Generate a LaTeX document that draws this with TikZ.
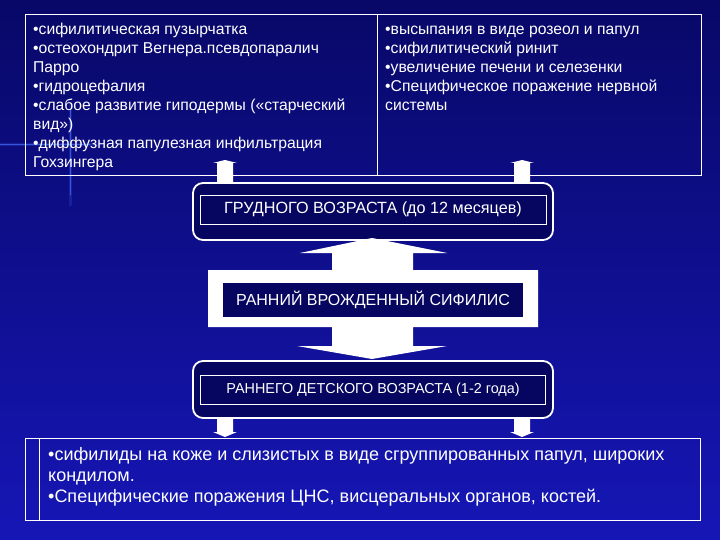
\documentclass[tikz,border=0pt]{standalone}
\usepackage{fontspec}
\setmainfont{Liberation Sans}
\usetikzlibrary{positioning}
\definecolor{slidetop}{RGB}{8,8,104}
\definecolor{slidemid}{RGB}{18,18,168}
\definecolor{slidebot}{RGB}{22,22,182}
\definecolor{boxnavy}{RGB}{6,6,96}
\definecolor{flareblue}{RGB}{70,110,255}
\newcommand{\signlist}[4]{%
    \parbox[t]{#1}{\raggedright\fontsize{#2}{#3}\selectfont #4}%
}
\def\InfantSigns{\signlist{345pt}{15.7}{19}{%
•сифилитическая пузырчатка\\
•остеохондрит Вегнера.псевдопаралич\\
Парро\\
•гидроцефалия\\
•слабое развитие гиподермы («старческий\\
вид»)\\
•диффузная папулезная инфильтрация\\
Гохзингера}}
\def\InfantMore{\signlist{315pt}{15.7}{19}{%
•высыпания в виде розеол и папул\\
•сифилитический ринит\\
•увеличение печени и селезенки\\
•Специфическое поражение нервной\\
системы}}
\def\ChildSigns{\signlist{650pt}{18}{21}{%
•сифилиды на коже и слизистых в виде сгруппированных папул, широких\\
кондилом.\\
•Специфические поражения ЦНС, висцеральных органов, костей.}}
\newcommand{\smallarrow}[3]{%
    \fill[blockarrow] #1 ++(-8,0) -- ++(0,#2) -- ++(-4,0) -- ++(12,#3)
        -- ++(12,{-(#3)}) -- ++(-4,0) -- ++(0,{-(#2)}) -- cycle;%
}

\begin{document}
\begin{tikzpicture}[x=1pt, y=-1pt,
                    every node/.style={inner sep=0pt, text=white},
                    frame/.style={draw=white, line width=0.9pt, anchor=north west},
                    agebox/.style={draw=white, line width=1.8pt, fill=boxnavy,
                                   rounded corners=10pt, minimum width=360pt,
                                   minimum height=57pt},
                    agelabel/.style={draw=white, line width=0.7pt, minimum height=29pt},
                    blockarrow/.style={fill=white},
                    flare/.style={draw=flareblue, line cap=round}]

    \useasboundingbox (0,0) rectangle (720,540);
    \fill[top color=slidetop, middle color=slidemid, bottom color=slidebot]
        (0,0) rectangle (720,540);
    \draw[flare, line width=3pt, opacity=.2] (0,145) -- (100,145);
    \draw[flare, line width=3pt, opacity=.2] (70,105) -- (70,205);
    \draw[flare, line width=1pt, opacity=.7] (0,145) -- (90,145);
    \draw[flare, line width=1pt, opacity=.7] (70,110) -- (70,195);

    \node[frame, minimum width=352pt, minimum height=161pt] (infantbox) at (25,14) {};
    \node[frame, minimum width=324pt, minimum height=161pt] (infantmorebox) at (377,14) {};
    \node[anchor=base west] (infanttext)
        at ([xshift=8pt, yshift=-21pt]infantbox.north west) {\InfantSigns};
    \node[anchor=base west] (infantmoretext)
        at ([xshift=8pt, yshift=-21pt]infantmorebox.north west) {\InfantMore};

    \node[agebox] (infant) at (373,211.5) {};
    \node[agelabel, minimum width=346pt, font=\fontsize{16.2}{18}\selectfont]
        (infantlabel) at ([yshift=2pt]infant.center) {ГРУДНОГО ВОЗРАСТА (до 12 месяцев)};

    \fill[blockarrow] (372,238) -- (447,253) -- (413,253) -- (413,270) -- (538,270)
        -- (538,327) -- (413,327) -- (413,346) -- (447,346) -- (372,359)
        -- (297,346) -- (332,346) -- (332,327) -- (208,327) -- (208,270)
        -- (332,270) -- (332,253) -- (300,253) -- cycle;
    \node[fill=boxnavy, minimum width=300pt, minimum height=34pt,
          font=\fontsize{16}{18}\selectfont] (early) at (373,300)
        {РАННИЙ ВРОЖДЕННЫЙ СИФИЛИС};

    \node[agebox] (child) at (373,389.5) {};
    \node[agelabel, minimum width=345pt, font=\fontsize{14.4}{16}\selectfont]
        (childlabel) at (child.center) {РАННЕГО ДЕТСКОГО ВОЗРАСТА (1-2 года)};

    \node[frame, minimum width=675pt, minimum height=82pt] (childbox) at (25,438) {};
    \draw[white, line width=0.9pt] ([xshift=14pt]childbox.north west)
        -- ([xshift=14pt]childbox.south west);
    \node[anchor=base west] (childtext)
        at ([xshift=23pt, yshift=-22pt]childbox.north west) {\ChildSigns};

    \smallarrow{(225,183)}{-20}{-3}
    \smallarrow{(522,183)}{-20}{-3}
    \smallarrow{(225,418)}{14}{5}
    \smallarrow{(522,418)}{14}{5}
\end{tikzpicture}
\end{document}
